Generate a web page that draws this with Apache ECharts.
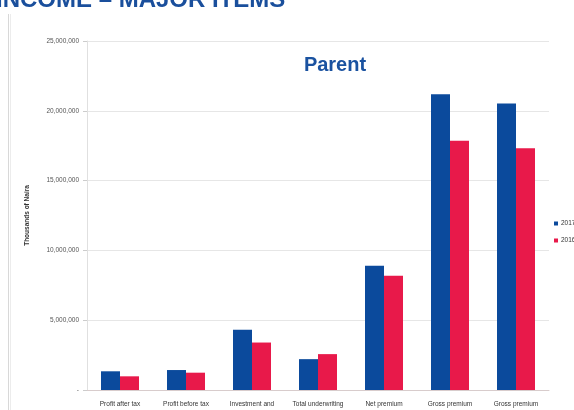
<!DOCTYPE html>
<html><head><meta charset="utf-8">
<script src="https://cdn.jsdelivr.net/npm/echarts@6/dist/echarts.min.js"></script>
<style>html,body{margin:0;padding:0;background:#fff;}#c{width:574px;height:410px;}</style>
</head><body><div id="c"></div>
<script>
const categories = ["Profit after tax", "Profit before tax", "Investment and\nother income", "Total underwriting\nexpenses", "Net premium\nincome", "Gross premium\nincome", "Gross premium\nwritten"];
const values2017 = [1340000, 1430000, 4310000, 2210000, 8900000, 21190000, 20520000];
const values2016 = [980000, 1240000, 3400000, 2570000, 8180000, 17860000, 17310000];
const seriesNames = ["2017", "2016"];
const yTicks = [0, 5000000, 10000000, 15000000, 20000000, 25000000];

const chart = echarts.init(document.getElementById('c'));
chart.setOption({
  animation: false,
  backgroundColor: '#fff',
  grid: {left: 87, right: 25, top: 41, bottom: 20, containLabel: false, outerBoundsMode: 'none'},
  title: {
    text: 'Parent', left: 330, top: 50, textAlign: 'center',
    textStyle: {color: '#1a52a0', fontSize: 20, fontWeight: 'bold', fontFamily: 'Liberation Sans'}
  },
  legend: {
    orient: 'vertical', left: 549, top: 215, itemWidth: 4, itemHeight: 4, itemGap: 10,
    icon: 'rect',
    textStyle: {fontSize: 6.5, color: '#333', fontFamily: 'Liberation Sans', padding: [0,0,0,-2]},
    data: seriesNames
  },
  graphic: [
    {type: 'text', left: -4, top: -12, style: {text: 'INCOME – MAJOR ITEMS', fill: '#1a4f9c', font: 'bold 24px "Liberation Sans"'}},
    {type: 'line', shape: {x1: 8.5, y1: 14, x2: 8.5, y2: 410}, style: {stroke: '#d8d8d8', lineWidth: 1}},
    {type: 'line', shape: {x1: 10.5, y1: 14, x2: 10.5, y2: 410}, style: {stroke: '#ececec', lineWidth: 1}}
  ],
  xAxis: {
    type: 'category', data: categories,
    axisLine: {lineStyle: {color: '#d8cccc'}},
    axisTick: {show: false},
    axisLabel: {fontSize: 6.5, color: '#333', margin: 10, lineHeight: 9, interval: 0, fontFamily: 'Liberation Sans'}
  },
  yAxis: {
    type: 'value', min: 0, max: 25000000, interval: 5000000,
    name: 'Thousands of Naira', nameLocation: 'middle', nameGap: 56, nameRotate: 90,
    nameTextStyle: {fontSize: 6.5, fontWeight: 'bold', color: '#333', fontFamily: 'Liberation Sans'},
    axisLine: {show: true, lineStyle: {color: '#e0e0e0'}},
    axisTick: {show: true, length: 4, lineStyle: {color: '#ccc'}},
    splitLine: {lineStyle: {color: '#e6e6e6'}},
    axisLabel: {fontSize: 6.5, color: '#555', margin: 8, fontFamily: 'Liberation Sans',
      formatter: v => yTicks.includes(v) ? (v === 0 ? '-' : v.toLocaleString('en-US')) : ''}
  },
  series: [
    {name: seriesNames[0], type: 'bar', data: values2017, barWidth: 19, barGap: '0%', itemStyle: {color: '#0b4a9c'}},
    {name: seriesNames[1], type: 'bar', data: values2016, barWidth: 19, barGap: '0%', itemStyle: {color: '#e8194a'}}
  ]
});
</script></body></html>
